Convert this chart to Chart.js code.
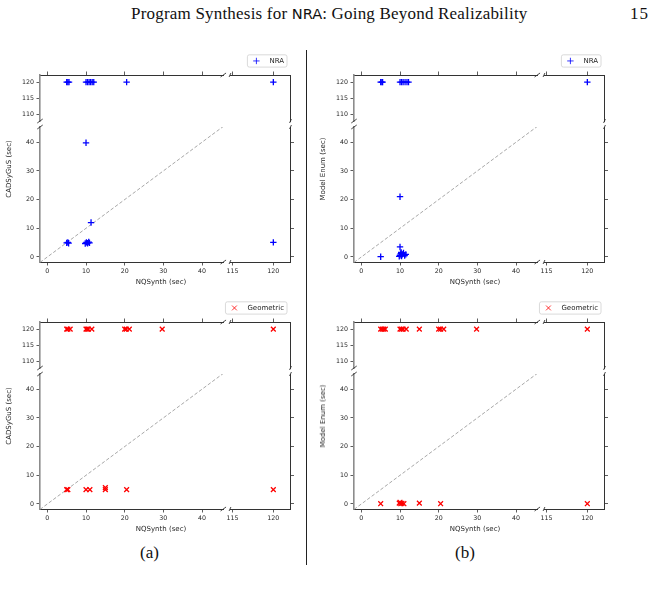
<!DOCTYPE html>
<html>
<head>
<meta charset="utf-8">
<script src="https://cdn.jsdelivr.net/npm/chart.js@4.4.0/dist/chart.umd.min.js"></script>
<style>
  body { margin: 0; background: #fff; }
  #page { position: relative; width: 657px; height: 608px; overflow: hidden; background: #fff; }
  canvas { position: absolute; left: 0; top: 0; }
  .t { position: absolute; white-space: nowrap; transform: translate(-50%, -50%); font-family: 'DejaVu Sans'; font-size: 7px; color: #262626; }
  .rot { transform: translate(-50%, -50%) rotate(-90deg); }
  .serif { position: absolute; white-space: nowrap; font-family: 'Liberation Serif', serif; color: #111; }
  .sf { font-family: 'DejaVu Sans'; font-size: 0.86em; letter-spacing: 0; }
  #rule { position: absolute; left: 305.5px; top: 50px; width: 1.3px; height: 515px; background: #222; }
</style>
</head>
<body>
<div id="page">
  <div class="serif" style="left:131px; top:4px; font-size:17px; letter-spacing:0.2px;">Program Synthesis for <span class="sf">NRA</span>: Going Beyond Realizability</div>
  <div class="serif" style="left:630px; top:4px; font-size:17px; letter-spacing:1px;">15</div>
  <div class="serif" style="left:149.5px; top:553px; font-size:17px; transform:translate(-50%,-50%);">(a)</div>
  <div class="serif" style="left:465px; top:553px; font-size:17px; transform:translate(-50%,-50%);">(b)</div>
  <div id="rule"></div>
</div>
<script>
// axis limits of the two halves of each broken axis, and their ticks
const xLimLow = [-1.9, 45.5];
const xLimHigh = [114.7, 122.1];
const yLimLow = [-1.75, 45.3];
const yLimHigh = [108, 122.2];
const xTicksLow = [0, 10, 20, 30, 40];
const xTicksHigh = [115, 120];
const yTicksLow = [0, 10, 20, 30, 40];
const yTicksHigh = [110, 115, 120];

// NRA benchmarks: NQSynth time vs CADSyGuS time (sec), 120 = timeout
const nraCadX = [5.0, 5.3, 5.6, 10.0, 10.4, 10.8, 11.2, 11.6, 12.0, 20.5, 120, 10.0, 11.3, 5.0, 5.3, 5.5, 9.8, 10.1, 10.4, 10.7, 10.9, 120];
const nraCadY = [120, 120, 120, 120, 120, 120, 120, 120, 120, 120, 120, 39.8, 12.0, 4.9, 5.1, 4.8, 4.7, 5.1, 4.8, 5.2, 4.9, 5.1];

// NRA benchmarks: NQSynth time vs Model Enum time (sec)
const nraEnumX = [5.0, 5.3, 5.5, 10.0, 10.4, 10.8, 11.3, 11.8, 12.2, 120, 10.0, 10.0, 5.0, 9.8, 10.0, 10.2, 10.3, 10.4, 10.6, 10.9, 11.2, 11.5];
const nraEnumY = [120, 120, 120, 120, 120, 120, 120, 120, 120, 120, 21.0, 3.5, 0.1, 0.2, 0.6, 1.2, 1.6, 0.3, 0.9, 1.4, 0.5, 0.9];

// Geometric benchmarks: NQSynth time vs CADSyGuS time (sec)
const geoCadX = [5.0, 5.3, 5.9, 10.0, 10.3, 10.6, 11.5, 20.0, 20.4, 21.2, 29.7, 120, 5.0, 5.3, 10.0, 11.0, 15.0, 15.0, 20.5, 120];
const geoCadY = [120, 120, 120, 120, 120, 120, 120, 120, 120, 120, 120, 120, 5.0, 5.0, 5.0, 5.0, 5.7, 5.0, 5.0, 5.0];

// Geometric benchmarks: NQSynth time vs Model Enum time (sec)
const geoEnumX = [5.0, 5.4, 5.8, 6.2, 10.0, 10.4, 10.8, 11.6, 15.0, 20.0, 20.5, 21.3, 29.8, 120, 5.0, 9.8, 10.0, 10.2, 10.5, 11.0, 15.0, 20.5, 120];
const geoEnumY = [120, 120, 120, 120, 120, 120, 120, 120, 120, 120, 120, 120, 120, 120, 0.1, 0.3, 0.6, 0.1, 0.2, 0.1, 0.3, 0.1, 0.1];

//LAYOUT
const PAGE_W = 657, PAGE_H = 608;
const PANEL_W = 250.5, PANEL_H = 187;
const X_SPLIT = [183.3, 190];
const Y_SPLIT = [46, 52];
const BREAK = 100;
const Y_AXIS_W = 30, X_AXIS_H = 16;

const panels = [
    { xs: nraCadX, ys: nraCadY, label: 'NRA', marker: 'cross', radius: 3.2, color: '#0000ff', yTitle: 'CADSyGuS (sec)', at: [40, 75] },
    { xs: nraEnumX, ys: nraEnumY, label: 'NRA', marker: 'cross', radius: 3.2, color: '#0000ff', yTitle: 'Model Enum (sec)', at: [354, 75] },
    { xs: geoCadX, ys: geoCadY, label: 'Geometric', marker: 'crossRot', radius: 3.4, color: '#ff0000', yTitle: 'CADSyGuS (sec)', at: [40, 322] },
    { xs: geoEnumX, ys: geoEnumY, label: 'Geometric', marker: 'crossRot', radius: 3.4, color: '#ff0000', yTitle: 'Model Enum (sec)', at: [354, 322] },
];

// the four pieces of a broken axes
const parts = [
    { xHigh: false, yHigh: true, rect: [0, 0, X_SPLIT[0], Y_SPLIT[0]], xPos: 'top', yPos: 'left', xLabels: false, yLabels: true, yMarks: true, corners: ['bl', 'tr'] },
    { xHigh: true, yHigh: true, rect: [X_SPLIT[1], 0, PANEL_W, Y_SPLIT[0]], xPos: 'top', yPos: 'right', xLabels: false, yLabels: false, yMarks: false, corners: ['tl', 'br'], legend: true },
    { xHigh: false, yHigh: false, rect: [0, Y_SPLIT[1], X_SPLIT[0], PANEL_H], xPos: 'bottom', yPos: 'left', xLabels: true, yLabels: true, yMarks: true, corners: ['tl', 'br'], diagonal: true },
    { xHigh: true, yHigh: false, rect: [X_SPLIT[1], Y_SPLIT[1], PANEL_W, PANEL_H], xPos: 'bottom', yPos: 'right', xLabels: true, yLabels: false, yMarks: true, corners: ['bl', 'tr'] },
];

//PLUGINS
const breakMarks = {
    id: 'breakMarks',
    afterDraw(chart, args, opts) {
        const { left, right, top, bottom } = chart.chartArea;
        const dx = 0.015 * (right - left), dy = 2;
        const ctx = chart.ctx;
        ctx.save();
        ctx.strokeStyle = '#333';
        ctx.lineWidth = 0.9;
        opts.corners.forEach(c => {
            const x = c[1] === 'l' ? left : right;
            const y = c[0] === 't' ? top : bottom;
            ctx.beginPath();
            ctx.moveTo(x - dx, y + dy);
            ctx.lineTo(x + dx, y - dy);
            ctx.stroke();
        });
        ctx.restore();
    }
};

const frameLegend = {
    id: 'frameLegend',
    afterDraw(chart, args, opts) {
        if (!opts.show) return;
        const ds = chart.data.datasets[0];
        const ctx = chart.ctx;
        ctx.save();
        ctx.font = '7px "DejaVu Sans"';
        const tw = ctx.measureText(ds.label).width;
        const w = tw + 25, h = 12.3;
        const right = chart.chartArea.right - 3.5;
        const left = right - w;
        const top = chart.chartArea.top - 20.2;
        ctx.beginPath();
        ctx.roundRect(left, top, w, h, 2);
        ctx.fillStyle = 'rgba(255,255,255,0.8)';
        ctx.fill();
        ctx.strokeStyle = '#d0d0d0';
        ctx.lineWidth = 0.8;
        ctx.stroke();
        ctx.strokeStyle = ds.borderColor;
        ctx.fillStyle = ds.borderColor;
        Chart.helpers.drawPoint(ctx, { pointStyle: ds.pointStyle, radius: ds.pointRadius, borderWidth: ds.pointBorderWidth, rotation: 0 }, left + 9, top + h / 2);
        ctx.fillStyle = '#262626';
        ctx.textBaseline = 'middle';
        ctx.fillText(ds.label, left + 22, top + h / 2 + 0.3);
        ctx.restore();
    }
};

//GENERAL FUNCTIONS
// size is the room the axis takes in the layout (labels are clipped to it)
function axisOptions(lim, ticks, position, showLabels, showMarks, spineColor, spineWidth, size) {
    return {
        type: 'linear',
        position: position,
        min: lim[0],
        max: lim[1],
        afterBuildTicks: s => { s.ticks = ticks.map(v => ({ value: v })); },
        afterFit: s => { if (s.isHorizontal()) s.height = size; else s.width = size; },
        grid: { drawOnChartArea: false, drawTicks: showMarks, tickLength: 3.5, color: '#333', tickWidth: 0.8 },
        border: { display: true, color: spineColor, width: spineWidth },
        ticks: { display: showLabels, autoSkip: false, maxRotation: 0, padding: 2.5, color: '#262626', font: { family: 'DejaVu Sans', size: 6.3 } }
    };
}

function addText(cls, text, x, y) {
    const d = document.createElement('div');
    d.className = cls;
    d.textContent = text;
    d.style.left = x + 'px';
    d.style.top = y + 'px';
    document.getElementById('page').appendChild(d);
}

function drawPart(panel, part) {
    const canvas = document.createElement('canvas');
    canvas.width = PAGE_W;
    canvas.height = PAGE_H;
    document.getElementById('page').appendChild(canvas);

    const [px, py] = panel.at;
    const pts = [];
    panel.xs.forEach((x, i) => {
        const y = panel.ys[i];
        if ((x > BREAK) === part.xHigh && (y > BREAK) === part.yHigh) pts.push({ x: x, y: y });
    });

    const datasets = [{
        label: panel.label,
        data: pts,
        pointStyle: panel.marker,
        pointRadius: panel.radius,
        pointBorderWidth: 1.3,
        borderColor: panel.color,
        backgroundColor: panel.color,
        pointBorderColor: panel.color,
        pointBackgroundColor: panel.color
    }];
    if (part.diagonal) {
        datasets.push({
            data: xLimLow.map(v => ({ x: v, y: v })),
            showLine: true,
            borderColor: '#a8a8a8',
            borderWidth: 1,
            borderDash: [3.5, 2],
            pointRadius: 0
        });
    }

    const leftSpine = part.yPos === 'left';
    const yW = part.yLabels ? Y_AXIS_W : 0;
    const xH = part.xLabels ? X_AXIS_H : 0;
    return new Chart(canvas, {
        type: 'scatter',
        data: { datasets },
        options: {
            responsive: false,
            animation: false,
            events: [],
            layout: {
                padding: {
                    left: px + part.rect[0] - yW,
                    top: py + part.rect[1],
                    right: PAGE_W - (px + part.rect[2]),
                    bottom: PAGE_H - (py + part.rect[3]) - xH
                }
            },
            plugins: {
                legend: { display: false },
                tooltip: { enabled: false },
                breakMarks: { corners: part.corners },
                frameLegend: { show: !!part.legend }
            },
            scales: {
                x: axisOptions(part.xHigh ? xLimHigh : xLimLow, part.xHigh ? xTicksHigh : xTicksLow, part.xPos, part.xLabels, true, '#333', 1, xH),
                y: axisOptions(part.yHigh ? yLimHigh : yLimLow, part.yHigh ? yTicksHigh : yTicksLow, part.yPos, part.yLabels, part.yMarks,
                    leftSpine ? '#8c8c8c' : '#333', leftSpine ? 1.6 : 1, yW)
            }
        },
        plugins: [breakMarks, frameLegend]
    });
}

//PANELS
panels.forEach(panel => {
    parts.forEach(part => drawPart(panel, part));
    const [px, py] = panel.at;
    addText('t', 'NQSynth (sec)', px + 121, py + 207);
    addText('t rot', panel.yTitle, px - 31.5, py + 93.5);
});
</script>
</body>
</html>
